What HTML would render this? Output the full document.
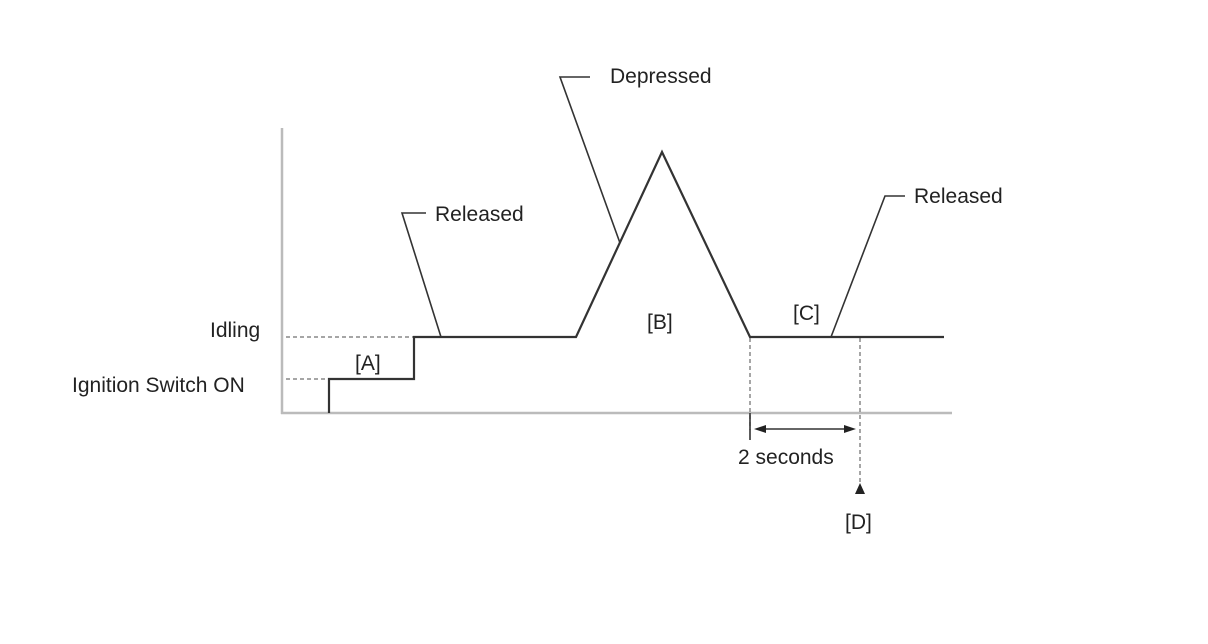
<!DOCTYPE html>
<html><head><style>
body{margin:0;background:#fff}
svg{display:block}
text{font-family:"Liberation Sans",Arial,sans-serif;font-size:21px;fill:#222}
</style></head><body>
<svg width="1208" height="644" viewBox="0 0 1208 644">
<g stroke="#bbb" stroke-width="2.5" fill="none">
<line x1="282" y1="128" x2="282" y2="414"/>
<line x1="281" y1="413" x2="952" y2="413"/>
</g>
<g stroke="#888" stroke-width="1.5" stroke-dasharray="4,3" fill="none">
<line x1="286" y1="337" x2="414" y2="337"/>
<line x1="286" y1="379" x2="329" y2="379"/>
<line x1="750" y1="338" x2="750" y2="430"/>
<line x1="860" y1="338" x2="860" y2="484"/>
</g>
<g stroke="#333" stroke-width="2.2" fill="none">
<polyline points="329,413 329,379 414,379 414,337 576,337 662,152 750,337 944,337"/>
</g>
<g stroke="#333" stroke-width="1.6" fill="none">
<polyline points="441,337 402,213 426,213"/>
<polyline points="620,243 560,77 590,77"/>
<polyline points="831,337 885,196 905,196"/>
<line x1="750" y1="413" x2="750" y2="440"/>
<line x1="757" y1="429" x2="853" y2="429"/>
</g>
<g fill="#222">
<polygon points="754,429 766,425 766,433"/>
<polygon points="856,429 844,425 844,433"/>
<polygon points="860,483 855,494 865,494"/>
</g>
<text x="435" y="221">Released</text>
<text x="610" y="83">Depressed</text>
<text x="914" y="203">Released</text>
<text x="210" y="337">Idling</text>
<text x="72" y="392">Ignition Switch ON</text>
<text x="355" y="370">[A]</text>
<text x="647" y="329">[B]</text>
<text x="793" y="320">[C]</text>
<text x="738" y="464">2 seconds</text>
<text x="845" y="529">[D]</text>
</svg>
</body></html>
